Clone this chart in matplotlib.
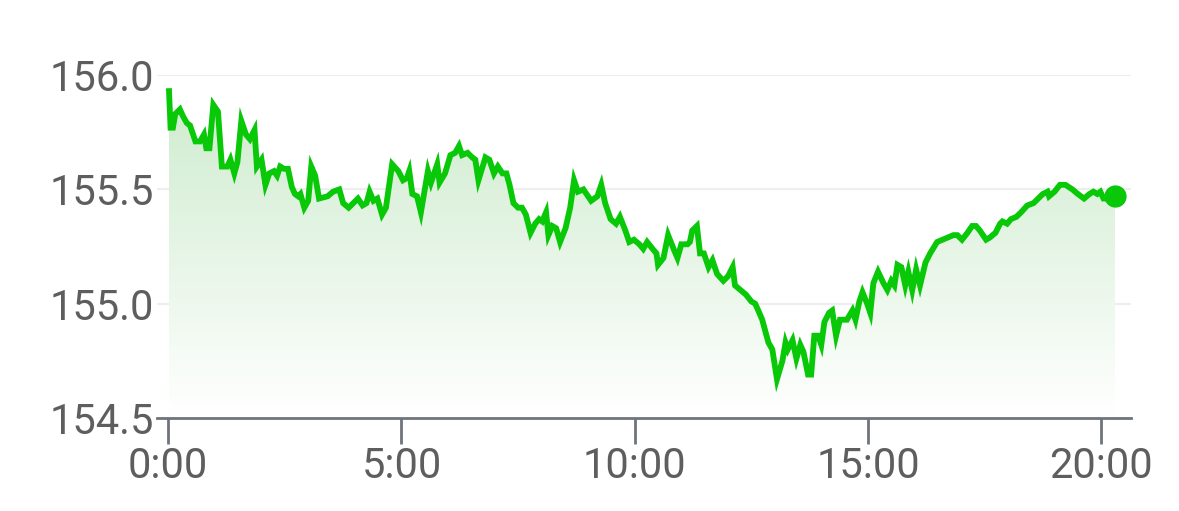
import numpy as np
import matplotlib.pyplot as plt
from matplotlib.colors import LinearSegmentedColormap
from matplotlib.ticker import FixedLocator, FuncFormatter

# minutes since 0:00
minutes = [1, 3, 6, 9, 15, 19, 24, 28, 32, 35, 41, 46, 49, 53, 58, 64, 69, 76, 80, 85,
           89, 94, 100, 105, 111, 114, 120, 125, 130, 136, 140, 144, 149, 154, 159, 163, 167,
           170, 175, 180, 184, 189, 194, 205, 212, 220, 225, 232, 238, 244, 250, 255, 259,
           264, 269, 275, 280, 288, 296, 302, 307, 310, 314, 320, 325, 334, 338, 346, 349,
           356, 363, 369, 374, 378, 385, 391, 395, 399, 408, 413, 419, 424, 430, 435, 439,
           444, 450, 455, 460, 466, 472, 477, 481, 486, 489, 494, 499, 504, 511, 517, 522,
           527, 534, 544, 552, 557, 562, 569, 576, 581, 588, 593, 599, 606, 611, 616, 623,
           628, 630, 637, 643, 650, 655, 660, 668, 671, 674, 680, 684, 689, 695, 700, 706,
           714, 720, 726, 729, 736, 743, 750, 755, 759, 764, 768, 772, 777, 783, 790, 794,
           797, 803, 808, 813, 817, 823, 827, 831, 836, 840, 844, 850, 854, 859, 864, 873,
           880, 884, 889, 893, 899, 903, 907, 913, 920, 925, 930, 934, 938, 943, 948, 952,
           957, 962, 967, 974, 980, 989, 996, 1003, 1010, 1015, 1021, 1028, 1034, 1039, 1044,
           1052, 1057, 1064, 1070, 1073, 1079, 1084, 1091, 1097, 1105, 1113, 1119, 1125, 1131,
           1133, 1140, 1147, 1154, 1163, 1170, 1178, 1185, 1190, 1195, 1199, 1203, 1209, 1218]
prices = [155.93, 155.77, 155.77, 155.83, 155.85, 155.82, 155.79, 155.78, 155.74, 155.71,
          155.71, 155.74, 155.68, 155.68, 155.87, 155.84, 155.60, 155.60, 155.63, 155.57,
          155.62, 155.80, 155.74, 155.72, 155.76, 155.60, 155.63, 155.52, 155.57, 155.58,
          155.56, 155.60, 155.59, 155.59, 155.51, 155.48, 155.47,
          155.48, 155.42, 155.45, 155.60, 155.56, 155.46, 155.47, 155.49, 155.50, 155.44,
          155.42, 155.44, 155.46, 155.43, 155.44, 155.49, 155.45, 155.46, 155.39, 155.42,
          155.61, 155.58, 155.54, 155.55, 155.58, 155.48, 155.47, 155.40, 155.58, 155.53,
          155.61, 155.53,
          155.57, 155.65, 155.66, 155.69, 155.65, 155.66, 155.64, 155.63, 155.54, 155.64,
          155.63, 155.57, 155.60, 155.57, 155.57, 155.52, 155.44, 155.42, 155.42, 155.39,
          155.31, 155.35, 155.37, 155.36, 155.40, 155.30, 155.34, 155.33, 155.27, 155.33,
          155.42, 155.54, 155.49,
          155.50, 155.45, 155.47, 155.52, 155.44, 155.37, 155.35, 155.38, 155.32, 155.27,
          155.28, 155.26, 155.24, 155.27, 155.24, 155.22, 155.17, 155.20, 155.30, 155.24,
          155.20, 155.26, 155.26, 155.27, 155.32, 155.34, 155.22, 155.22, 155.16, 155.19,
          155.13,
          155.10, 155.12, 155.16, 155.08, 155.06, 155.04, 155.01, 155.00, 154.97, 154.93,
          154.88, 154.83, 154.80, 154.67, 154.75, 154.83, 154.80, 154.84, 154.76, 154.82,
          154.79, 154.69, 154.69, 154.86, 154.86, 154.82, 154.92, 154.96, 154.97, 154.86,
          154.93, 154.93, 154.97, 154.93, 155.01,
          155.05, 155.00, 154.96, 155.09, 155.14, 155.09, 155.06, 155.10, 155.08, 155.17,
          155.16, 155.08, 155.14, 155.06, 155.15, 155.08, 155.18, 155.22, 155.27, 155.28,
          155.29, 155.30, 155.30, 155.28, 155.31, 155.34, 155.34, 155.32, 155.28, 155.29,
          155.31, 155.35,
          155.36, 155.35, 155.37, 155.38, 155.40, 155.43, 155.44, 155.46, 155.48, 155.49,
          155.47, 155.49, 155.52, 155.52, 155.50, 155.48, 155.46, 155.48, 155.49, 155.48,
          155.49, 155.46, 155.46, 155.47]

y_ticks = [154.5, 155.0, 155.5, 156.0]
x_ticks = [0, 5, 10, 15, 20]

hours = np.array(minutes) / 60.0
prices = np.array(prices)

green = '#08c808'
text_color = '#5e5e5e'

fig = plt.figure(figsize=(11.79, 5.11), dpi=100)
ax = fig.add_axes([0.1332, 0.182, 0.8261, 0.671])
ax.set_xlim(-0.24, 20.64)
ax.set_ylim(154.5, 156.0)

# gradient fill under the line
poly = ax.fill_between(hours, prices, 154.5, color='none', lw=0)
cmap = LinearSegmentedColormap.from_list('g', [(1, 1, 1, 1), (0.80, 0.92, 0.80, 1)])
grad = np.linspace(0, 1, 256).reshape(-1, 1)
img = ax.imshow(grad, cmap=cmap, aspect='auto', origin='lower',
                extent=[0, hours[-1], 154.5, 156.0], zorder=1)
img.set_clip_path(poly.get_paths()[0], transform=ax.transData)

ax.plot(hours, prices, color=green, lw=4.2, zorder=3, solid_joinstyle='miter')
ax.plot(hours[-1], prices[-1], 'o', color=green, ms=15, zorder=4)

for s in ['top', 'left', 'right']:
    ax.spines[s].set_visible(False)
ax.spines['bottom'].set_color('#6f747b')
ax.spines['bottom'].set_linewidth(2.0)

ax.yaxis.set_major_locator(FixedLocator(y_ticks))
ax.xaxis.set_major_locator(FixedLocator(x_ticks))
ax.xaxis.set_major_formatter(FuncFormatter(lambda v, p: '%d:00' % v))
ax.yaxis.set_major_formatter(FuncFormatter(lambda v, p: '%.1f' % v))
ax.grid(axis='y', color='#eeeeee', lw=1.5, zorder=0)
ax.set_axisbelow(True)

ax.tick_params(axis='x', length=19, width=2, color='#6f747b', pad=1,
               labelsize=30, labelcolor=text_color)
ax.tick_params(axis='y', length=0, pad=2, labelsize=30, labelcolor=text_color)
for lab in ax.get_xticklabels() + ax.get_yticklabels():
    lab.set_fontfamily('Roboto')

fig.savefig('out.png', dpi=100)
